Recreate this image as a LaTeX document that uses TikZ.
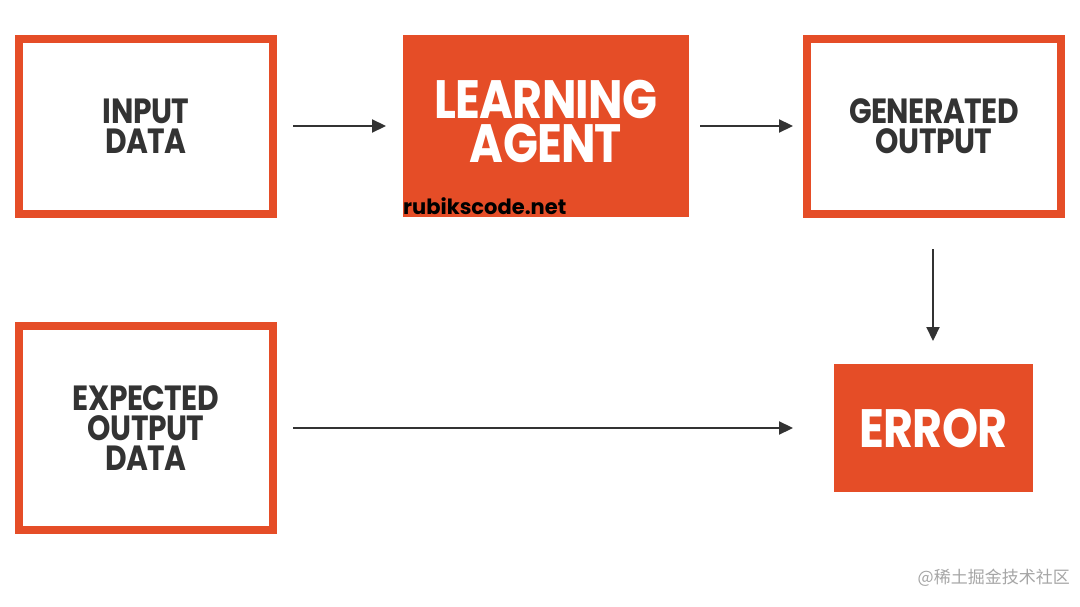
\documentclass[tikz,border=0pt]{standalone}
\usepackage{fontspec}
\setmainfont{Poppins}
\newfontfamily\cond[FakeStretch=0.85,LetterSpace=-1.5]{Poppins}
\newfontfamily\cjk{Noto Sans CJK SC}
\usetikzlibrary{arrows.meta}
\definecolor{org}{HTML}{E54D27}
\definecolor{dk}{HTML}{333333}
\tikzset{
 obox/.style={draw=org,line width=8pt,fill=white,text=dk,font=\cond\bfseries\fontsize{35}{30}\selectfont,align=center,inner sep=0},
 fbox/.style={fill=org,text=white,font=\cond\bfseries\fontsize{54}{44}\selectfont,align=center,inner sep=0},
 arr/.style={-{Stealth[length=14pt,width=13pt,inset=0pt]},line width=2.2pt,draw=dk}
}
\begin{document}
\begin{tikzpicture}[x=1pt,y=-1pt]
\useasboundingbox[fill=white] (0,0) rectangle (1080,607);
\node[obox,minimum width=254pt,minimum height=175pt] (in) at (146,126.5) {INPUT\\DATA};
\node[fbox,minimum width=286pt,minimum height=182pt] (la) at (546,126) {};
\node[fbox] (lat) at (546,121) {LEARNING\\AGENT};
\node[obox,minimum width=254pt,minimum height=175pt] (go) at (934,126.5) {GENERATED\\OUTPUT};
\node[obox,minimum width=254pt,minimum height=204pt] (ex) at (146,428) {EXPECTED\\OUTPUT\\DATA};
\node[fbox,minimum width=199pt,minimum height=128pt] (er) at (933.5,428) {ERROR};
\node[anchor=west,font=\bfseries\fontsize{21}{21}\selectfont,inner sep=0] (rc) at (403,206) {rubikscode.net};
\node[anchor=east,text=gray!70,font=\cjk\fontsize{17}{17}\selectfont,inner sep=0] (wm) at (1070,578) {@稀土掘金技术社区};
\coordinate (a1) at (293,126); \coordinate (a2) at (386,126);
\coordinate (b1) at (700,126); \coordinate (b2) at (793,126);
\coordinate (c1) at (933,249); \coordinate (c2) at (933,341);
\coordinate (d1) at (293,428); \coordinate (d2) at (793,428);
\draw[arr] (a1) -- (a2);
\draw[arr] (b1) -- (b2);
\draw[arr] (c1) -- (c2);
\draw[arr] (d1) -- (d2);
\end{tikzpicture}
\end{document}
